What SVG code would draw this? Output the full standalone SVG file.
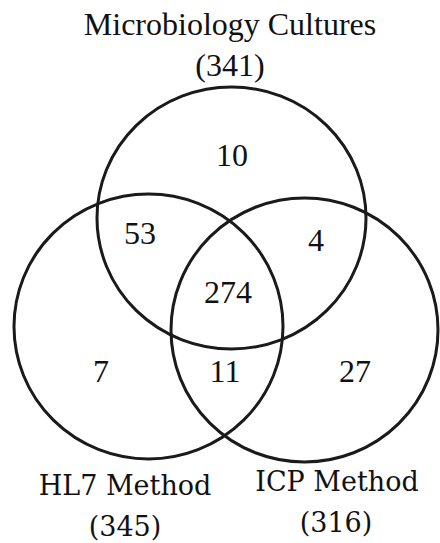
<svg xmlns="http://www.w3.org/2000/svg" width="440" height="543" viewBox="0 0 440 543">
<style>
.c{fill:none;stroke:#1a1a1a;stroke-width:3}
.t{font-family:"Liberation Serif","Times New Roman",serif;font-size:32px;fill:#111;text-anchor:middle}
.b{font-family:"DejaVu Serif","Liberation Serif",serif;font-size:27px;fill:#111;text-anchor:middle}
</style>
<rect width="440" height="543" fill="#fff"/>
<g id="connectors"/>
<g id="micro">
<ellipse class="c" cx="231.5" cy="218" rx="134.5" ry="131"/>
<text class="t" x="230" y="35">Microbiology Cultures</text>
<text class="t" x="230" y="76">(341)</text>
</g>
<g id="hl7">
<ellipse class="c" cx="148.5" cy="326.5" rx="134.5" ry="132.5"/>
<text class="b" x="125" y="495">HL7 Method</text>
<text class="b" x="125" y="536">(345)</text>
</g>
<g id="icp">
<ellipse class="c" cx="304.5" cy="330" rx="133.5" ry="132"/>
<text class="b" x="337" y="491">ICP Method</text>
<text class="b" x="336" y="532">(316)</text>
</g>
<g id="regions">
<text class="t" x="232" y="166">10</text>
<text class="t" x="140" y="244">53</text>
<text class="t" x="316" y="251">4</text>
<text class="t" x="228" y="303">274</text>
<text class="t" x="101" y="382">7</text>
<text class="t" x="225" y="382">11</text>
<text class="t" x="355" y="382">27</text>
</g>
</svg>
